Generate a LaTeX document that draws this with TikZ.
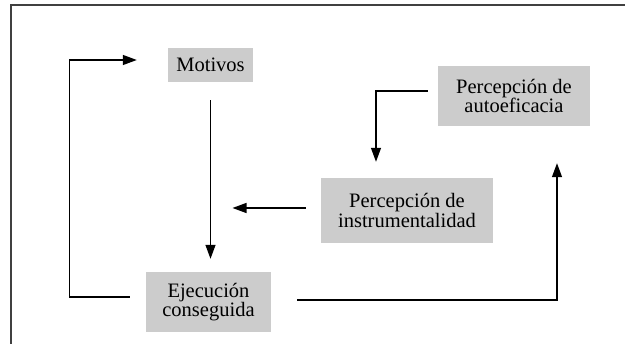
\documentclass[tikz,border=0pt]{standalone}
\usepackage{fontspec}
\setmainfont{Liberation Serif}
\usetikzlibrary{arrows.meta}

\begin{document}
\begin{tikzpicture}
  [x=1pt,y=-1pt,
   caja/.style={rectangle,fill=black!20,align=center,inner sep=0pt,
                font=\fontsize{20.5}{17.5}\selectfont},
   flecha/.style={-{Triangle[length=14pt,width=10pt]},line width=1.3pt}]
  \useasboundingbox (0,0) rectangle (625,344);
  \draw [line width=1.5pt,black!75] (11,344) -- (11,5) -- (625,5);

  \node[caja,minimum width=85pt,minimum height=34pt]  (motivos)   at (210.5,65)  {Motivos};
  \node[caja,minimum width=125pt,minimum height=60pt] (ejecucion) at (208.5,302) {Ejecución\\conseguida};
  \node[caja,minimum width=172pt,minimum height=65pt] (instrum)   at (407,210.5) {Percepción de\\instrumentalidad};
  \node[caja,minimum width=152pt,minimum height=60pt] (autoef)    at (514,96)    {Percepción de\\autoeficacia};

  \draw [flecha,shorten <=18pt,shorten >=13pt] (motivos.south)
        -- (motivos.south |- ejecucion.north);
  \draw [flecha,shorten <=15pt,shorten >=22pt] ([yshift=2.5pt]instrum.west)
        -- ([yshift=2.5pt]motivos.south |- instrum.west);
  \draw [flecha,shorten <=10pt,shorten >=16pt] ([yshift=5pt]autoef.west)
        -| ([xshift=-31pt]instrum.north);
  \draw [flecha,shorten <=26pt,shorten >=37pt] ([yshift=2pt]ejecucion.east)
        -| ([xshift=43pt]autoef.south);
  \draw [flecha,shorten <=16pt,shorten >=31pt] ([yshift=5pt]ejecucion.west)
        -- ++(-76pt,0) |- ([yshift=5pt]motivos.west);
\end{tikzpicture}
\end{document}
